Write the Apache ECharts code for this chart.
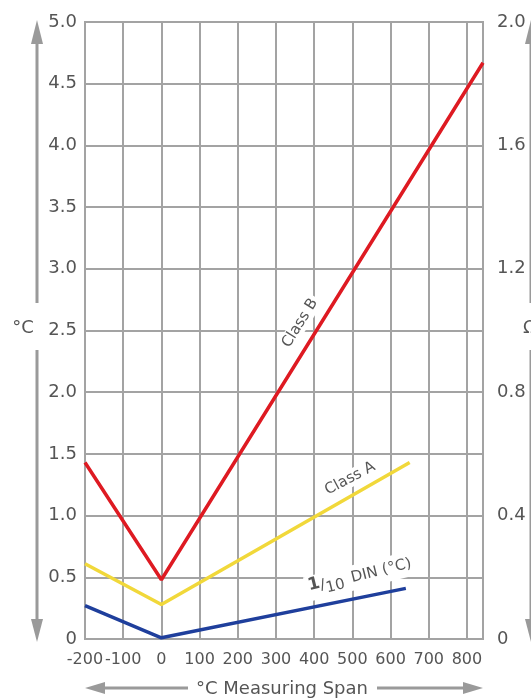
<!DOCTYPE html>
<html>
<head>
<meta charset="utf-8">
<script src="https://cdn.jsdelivr.net/npm/echarts@6/dist/echarts.min.js"></script>
<style>
  html, body { margin: 0; padding: 0; background: #ffffff; }
  #chart { width: 531px; height: 700px; }
</style>
</head>
<body>
<div id="chart"></div>
<script>
// Tolerance vs. temperature for RTD classes
const spanB = [-200, 0, 842];
const tolB  = [1.43, 0.48, 4.67];
const spanA = [-200, 0, 650];
const tolA  = [0.61, 0.28, 1.43];
const spanDin = [-200, 0, 640];
const tolDin  = [0.27, 0.01, 0.41];

// Label anchors (data coordinates) and their rotation
const labelB   = { at: [363, 2.56], angle: 58 };
const labelA   = { at: [494, 1.30], angle: 28 };
const labelDin = { at: [520, 0.51], angle: 14 };

const xMin = -200, xMax = 842, xStep = 100;
const yMin = 0, yMax = 5, yStep = 0.5;
const ohmMin = 0, ohmMax = 2, ohmStep = 0.4;

const FONT = 'DejaVu Sans';
const GRID = '#a3a3a3';
const TEXT = '#555555';
const ARROW = '#9a9a9a';

function pairs(xs, ys) { return xs.map((x, i) => [x, ys[i]]); }
function tick(v) { return v === 0 ? '0' : v.toFixed(1); }

function tag(lbl, formatter, rich) {
  return {
    symbol: 'rect',
    symbolSize: 1,
    itemStyle: { color: 'rgba(0,0,0,0)' },
    silent: true,
    data: [{
      coord: lbl.at,
      label: {
        show: true,
        position: 'inside',
        rotate: lbl.angle,
        formatter: formatter,
        color: TEXT,
        fontFamily: FONT,
        fontSize: 15,
        backgroundColor: '#ffffff',
        padding: [1, 3],
        rich: rich
      }
    }]
  };
}

function lineSeries(name, xs, ys, color, mark) {
  return {
    name: name,
    type: 'line',
    data: pairs(xs, ys),
    showSymbol: false,
    symbol: 'none',
    lineStyle: { color: color, width: 3.5 },
    z: 3,
    markPoint: mark
  };
}

function arrowV(x) {
  return [
    { type: 'line', shape: { x1: x, y1: 42, x2: x, y2: 303 }, style: { stroke: ARROW, lineWidth: 3 } },
    { type: 'line', shape: { x1: x, y1: 350, x2: x, y2: 622 }, style: { stroke: ARROW, lineWidth: 3 } },
    { type: 'polygon', shape: { points: [[x, 20], [x - 6, 44], [x + 6, 44]] }, style: { fill: ARROW } },
    { type: 'polygon', shape: { points: [[x, 642], [x - 6, 619], [x + 6, 619]] }, style: { fill: ARROW } }
  ];
}

const chart = echarts.init(document.getElementById('chart'), null, { renderer: 'canvas' });

chart.setOption({
  animation: false,
  backgroundColor: '#ffffff',
  textStyle: { fontFamily: FONT },
  grid: {
    left: 85, right: 48, top: 22, bottom: 61,
    show: true, borderColor: GRID, borderWidth: 2, backgroundColor: 'transparent'
  },
  xAxis: {
    type: 'value',
    min: xMin, max: xMax, interval: xStep,
    axisLine: { show: true, lineStyle: { color: GRID, width: 2 } },
    axisTick: { show: false },
    splitLine: { show: true, lineStyle: { color: GRID, width: 2 } },
    axisLabel: {
      showMaxLabel: false,
      color: TEXT, fontFamily: FONT, fontSize: 16, margin: 13
    }
  },
  yAxis: [{
    type: 'value',
    position: 'left',
    min: yMin, max: yMax, interval: yStep,
    axisLine: { show: false },
    axisTick: { show: false },
    splitLine: { show: true, lineStyle: { color: GRID, width: 2 } },
    axisLabel: { formatter: tick, color: TEXT, fontFamily: FONT, fontSize: 18, margin: 8 }
  }, {
    type: 'value',
    position: 'right',
    min: ohmMin, max: ohmMax, interval: ohmStep,
    axisLine: { show: false },
    axisTick: { show: false },
    splitLine: { show: false },
    axisLabel: { formatter: tick, color: TEXT, fontFamily: FONT, fontSize: 18, margin: 14 }
  }],
  series: [
    lineSeries('Class B', spanB, tolB, '#de1a22', tag(labelB, 'Class B')),
    lineSeries('Class A', spanA, tolA, '#f1d83a', tag(labelA, 'Class A')),
    lineSeries('1/10 DIN', spanDin, tolDin, '#1f3f9c',
      tag(labelDin, '{sup|1}{sl|/}{sub|10} DIN (°C)', {
        sup: { fontSize: 17, fontWeight: 'bold', color: TEXT, fontFamily: FONT, padding: [0, 0, 6, 0] },
        sl:  { fontSize: 15, color: TEXT, fontFamily: FONT },
        sub: { fontSize: 15, color: TEXT, fontFamily: FONT, padding: [8, 3, 0, 0] }
      }))
  ],
  graphic: [
    ...arrowV(37),
    ...arrowV(531),
    { type: 'text', style: { text: '°C', x: 23, y: 328, align: 'center', verticalAlign: 'middle', font: '18px "DejaVu Sans"', fill: TEXT } },
    { type: 'text', style: { text: 'Ω', x: 530, y: 328, align: 'center', verticalAlign: 'middle', font: '18px "DejaVu Sans"', fill: TEXT } },
    { type: 'line', shape: { x1: 103, y1: 688, x2: 188, y2: 688 }, style: { stroke: ARROW, lineWidth: 3 } },
    { type: 'line', shape: { x1: 377, y1: 688, x2: 465, y2: 688 }, style: { stroke: ARROW, lineWidth: 3 } },
    { type: 'polygon', shape: { points: [[85, 688], [105, 682], [105, 694]] }, style: { fill: ARROW } },
    { type: 'polygon', shape: { points: [[483, 688], [463, 682], [463, 694]] }, style: { fill: ARROW } },
    { type: 'text', style: { text: '°C Measuring Span', x: 282, y: 689, align: 'center', verticalAlign: 'middle', font: '18px "DejaVu Sans"', fill: TEXT } }
  ]
});
</script>
</body>
</html>
